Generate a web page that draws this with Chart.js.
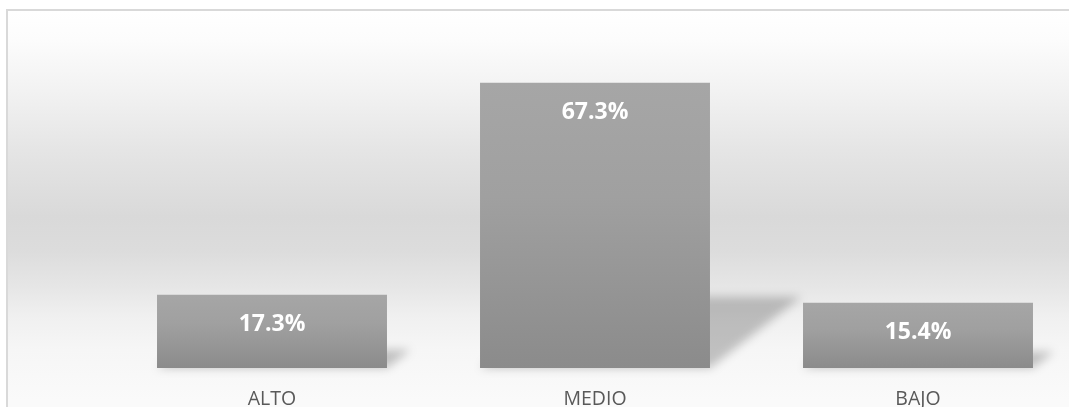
<!DOCTYPE html>
<html>
<head>
<meta charset="utf-8">
<script src="https://cdn.jsdelivr.net/npm/chart.js@4.4.1/dist/chart.umd.min.js"></script>
<style>
  html, body { margin: 0; padding: 0; width: 1069px; height: 407px; overflow: hidden; background: #fff; }
  #frame {
    position: absolute; left: 6px; top: 9px; width: 1300px; height: 420px;
    border-left: 2px solid #d9d9d9; border-top: 2px solid #d9d9d9;
    background: linear-gradient(to bottom,
      #ffffff 0px, #fcfcfc 29px, #f4f4f4 69px, #f0f0f0 89px, #e5e5e5 139px,
      #d9d9d9 206px, #dcdcdc 239px, #e6e6e6 276px, #f0f0f0 306px,
      #f6f6f6 339px, #fafafa 389px);
  }
  #wrap { position: absolute; left: 0; top: 0; width: 1100px; height: 407px; }
</style>
</head>
<body>
<div id="frame"></div>
<div id="wrap"><canvas id="chart"></canvas></div>
<script>
const categories = ['ALTO', 'MEDIO', 'BAJO'];
const percentages = [17.3, 67.3, 15.4];
const axisMax = 80;

// soft skewed shadow thrown to the right behind each bar
const barShadow = {
  id: 'barShadow',
  beforeDatasetsDraw(chart) {
    const ctx = chart.ctx;
    const meta = chart.getDatasetMeta(0);
    ctx.save();
    ctx.filter = 'blur(5px)';
    ctx.fillStyle = 'rgba(0,0,0,0.22)';
    meta.data.forEach(bar => {
      const { x, y, base, width } = bar.getProps(['x', 'y', 'base', 'width'], true);
      const h = base - y;
      const left = x - width / 2, right = x + width / 2;
      const dx = h * 0.32, dy = h * 0.25;
      ctx.beginPath();
      ctx.moveTo(left, base);
      ctx.lineTo(right, base);
      ctx.lineTo(right + dx, base - dy);
      ctx.lineTo(left + dx, base - dy);
      ctx.closePath();
      ctx.fill();
    });
    ctx.restore();
  }
};

// white percentage text near the top of each bar
const valueLabels = {
  id: 'valueLabels',
  afterDatasetsDraw(chart) {
    const ctx = chart.ctx;
    const meta = chart.getDatasetMeta(0);
    ctx.save();
    ctx.font = 'bold 23px "Open Sans"';
    ctx.fillStyle = '#ffffff';
    ctx.textAlign = 'center';
    ctx.textBaseline = 'middle';
    meta.data.forEach((bar, i) => {
      ctx.fillText(percentages[i].toFixed(1) + '%', bar.x, bar.y + 30);
    });
    ctx.restore();
  }
};

function barGradient(context) {
  const chart = context.chart;
  if (!chart.chartArea || !context.parsed) return '#999999';
  const yScale = chart.scales.y;
  const top = yScale.getPixelForValue(context.parsed.y);
  const base = yScale.getPixelForValue(0);
  const g = chart.ctx.createLinearGradient(0, top, 0, base);
  g.addColorStop(0, '#a6a6a6');
  g.addColorStop(0.4, '#a0a0a0');
  g.addColorStop(1, '#8b8b8b');
  return g;
}

new Chart(document.getElementById('chart'), {
  type: 'bar',
  data: {
    labels: categories,
    datasets: [{
      data: percentages,
      backgroundColor: barGradient,
      borderWidth: 0,
      categoryPercentage: 1,
      barPercentage: 0.712
    }]
  },
  options: {
    responsive: true,
    maintainAspectRatio: false,
    animation: false,
    layout: { padding: { left: 110.5, right: 20.5, top: 29, bottom: 0 } },
    plugins: { legend: { display: false }, tooltip: { enabled: false } },
    scales: {
      x: {
        grid: { display: false, drawTicks: false },
        border: { display: false },
        ticks: { color: '#595959', font: { family: 'Open Sans', size: 19.5 }, padding: 20 },
        afterFit(scale) { scale.height = 39; }
      },
      y: { display: false, min: 0, max: axisMax }
    }
  },
  plugins: [barShadow, valueLabels]
});
</script>
</body>
</html>
